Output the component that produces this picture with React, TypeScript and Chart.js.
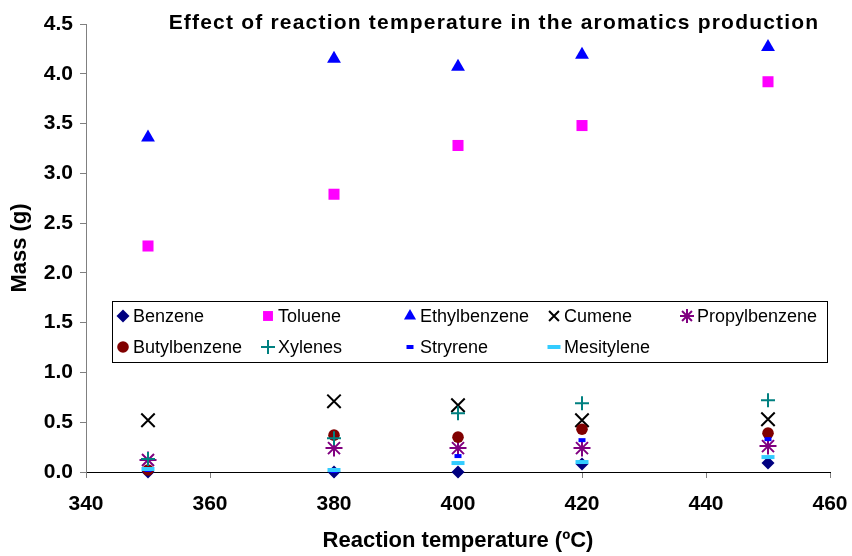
import React, { useEffect, useRef } from 'react';
import { Chart, registerables } from 'chart.js';
import { drawPoint } from 'chart.js/helpers';

Chart.register(...registerables);

// ---------- data ----------
const temperatures = [350, 380, 400, 420, 450];
const benzene = [0.0, 0.0, 0.0, 0.08, 0.09];
const toluene = [2.27, 2.79, 3.28, 3.48, 3.92];
const ethylbenzene = [3.36, 4.15, 4.07, 4.19, 4.27];
const cumene = [0.52, 0.71, 0.67, 0.52, 0.53];
const propylbenzene = [0.12, 0.24, 0.24, 0.24, 0.26];
const butylbenzene = [0.02, 0.37, 0.35, 0.43, 0.39];
const xylenes = [0.13, 0.34, 0.59, 0.69, 0.72];
const styrene = [0.02, 0.01, 0.16, 0.32, 0.33];
const mesitylene = [0.03, 0.02, 0.09, 0.10, 0.15];

const seriesNames = [
  'Benzene',
  'Toluene',
  'Ethylbenzene',
  'Cumene',
  'Propylbenzene',
  'Butylbenzene',
  'Xylenes',
  'Stryrene',
  'Mesitylene',
];
const seriesValues = [
  benzene,
  toluene,
  ethylbenzene,
  cumene,
  propylbenzene,
  butylbenzene,
  xylenes,
  styrene,
  mesitylene,
];

const xMin = 340;
const xMax = 460;
const xStep = 20;
const yMin = 0;
const yMax = 4.5;
const yStep = 0.5;

const chartTitle = 'Effect of reaction temperature in the aromatics production';
const xAxisTitle = 'Reaction temperature (ºC)';
const yAxisTitle = 'Mass (g)';

// ---------- styles ----------
const seriesStyles = [
  { pointStyle: 'rectRot', color: '#000080', radius: 6.5, borderWidth: 0 },
  { pointStyle: 'rect', color: '#FF00FF', radius: 7.8, borderWidth: 0 },
  { pointStyle: 'triangle', color: '#0000FF', radius: 8, borderWidth: 0 },
  { pointStyle: 'crossRot', color: '#000000', radius: 9.5, borderWidth: 2 },
  { pointStyle: 'star', color: '#800080', radius: 8.5, borderWidth: 2 },
  { pointStyle: 'circle', color: '#800000', radius: 5.8, borderWidth: 0 },
  { pointStyle: 'cross', color: '#008080', radius: 7, borderWidth: 2 },
  { pointStyle: 'line', color: '#0000FF', radius: 3.5, borderWidth: 4 },
  { pointStyle: 'line', color: '#33CCFF', radius: 6.5, borderWidth: 4 },
];

const FONT = "'Liberation Sans', Arial, sans-serif";

const titlePlugin = {
  id: 'topTitle',
  afterDraw(chart: any) {
    const { ctx, chartArea } = chart;
    ctx.save();
    ctx.font = `bold 21px ${FONT}`;
    (ctx as any).letterSpacing = '1.2px';
    ctx.fillStyle = '#000';
    ctx.textAlign = 'center';
    ctx.textBaseline = 'middle';
    ctx.fillText(chartTitle, chartArea.left + 408, chartArea.top - 1);
    ctx.restore();
  },
};

const legendTextCols = [21, 166, 308, 452, 585];

const legendPlugin = {
  id: 'gridLegend',
  afterDraw(chart: any) {
    const { ctx, chartArea } = chart;
    const boxL = chartArea.left + 26;
    const boxT = chartArea.top + 277;
    const boxW = 715;
    const boxH = 61;
    ctx.save();
    ctx.fillStyle = '#ffffff';
    ctx.fillRect(boxL, boxT, boxW, boxH);
    ctx.strokeStyle = '#000000';
    ctx.lineWidth = 1;
    ctx.strokeRect(boxL + 0.5, boxT + 0.5, boxW, boxH);
    ctx.font = `18px ${FONT}`;
    ctx.textBaseline = 'middle';
    ctx.textAlign = 'left';
    chart.data.datasets.forEach((ds: any, i: number) => {
      const row = i < 5 ? 0 : 1;
      const col = i < 5 ? i : i - 5;
      const tx = boxL + legendTextCols[col];
      const ty = boxT + 15 + row * 31;
      const st = seriesStyles[i];
      ctx.fillStyle = st.color;
      ctx.strokeStyle = st.color;
      ctx.lineWidth = st.borderWidth;
      drawPoint(
        ctx,
        {
          pointStyle: st.pointStyle as any,
          radius: Math.min(st.radius, 7),
          rotation: 0,
          borderWidth: st.borderWidth,
        } as any,
        tx - 10,
        ty
      );
      ctx.fillStyle = '#000000';
      ctx.fillText(ds.label, tx, ty + 1);
    });
    ctx.restore();
  },
};

export default function App() {
  const canvasRef = useRef<HTMLCanvasElement | null>(null);

  useEffect(() => {
    if (!canvasRef.current) return;
    const datasets = seriesNames.map((name, i) => {
      const st = seriesStyles[i];
      return {
        label: name,
        data: temperatures.map((t, j) => ({ x: t, y: seriesValues[i][j] })),
        pointStyle: st.pointStyle,
        pointRadius: st.radius,
        pointHoverRadius: st.radius,
        backgroundColor: st.color,
        borderColor: st.color,
        pointBorderWidth: st.borderWidth,
        borderWidth: st.borderWidth,
        showLine: false,
        clip: false as any,
        order: seriesNames.length - i,
      };
    });

    const chart = new Chart(canvasRef.current, {
      type: 'scatter',
      data: { datasets: datasets as any },
      plugins: [titlePlugin, legendPlugin],
      options: {
        animation: false,
        responsive: true,
        maintainAspectRatio: false,
        layout: { padding: { top: 24, right: 22, left: 0, bottom: 0 } },
        plugins: {
          legend: { display: false },
          tooltip: { enabled: false },
          title: { display: false },
        },
        scales: {
          x: {
            type: 'linear',
            min: xMin,
            max: xMax,
            ticks: {
              stepSize: xStep,
              color: '#000',
              font: { family: FONT, size: 21, weight: 'bold' },
              padding: 14,
              maxRotation: 0,
            },
            grid: {
              display: true,
              drawOnChartArea: false,
              drawTicks: true,
              tickLength: 6,
              color: '#808080',
            },
            border: { display: true, color: '#000000', width: 1 },
            title: {
              display: true,
              text: xAxisTitle,
              color: '#000',
              font: { family: FONT, size: 22, weight: 'bold' },
              padding: { top: 0, bottom: 2 },
            },
            afterFit(scale: any) {
              scale.height = 84;
              scale.paddingLeft = 0;
              scale.paddingRight = 0;
            },
          },
          y: {
            type: 'linear',
            min: yMin,
            max: yMax,
            ticks: {
              stepSize: yStep,
              color: '#000',
              font: { family: FONT, size: 21, weight: 'bold' },
              padding: 7,
              callback: (v: any) => Number(v).toFixed(1),
            },
            grid: {
              display: true,
              drawOnChartArea: false,
              drawTicks: true,
              tickLength: 6,
              color: '#808080',
            },
            border: { display: true, color: '#808080', width: 1 },
            title: {
              display: true,
              text: yAxisTitle,
              color: '#000',
              font: { family: FONT, size: 22, weight: 'bold' },
              padding: { top: 7, bottom: 0 },
            },
            afterFit(scale: any) {
              scale.width = 86;
              scale.paddingTop = 0;
              scale.paddingBottom = 0;
            },
          },
        },
      },
    });
    return () => chart.destroy();
  }, []);

  return (
    <div style={{ position: 'absolute', left: 0, top: 0, width: 852, height: 556, background: '#fff' }}>
      <canvas ref={canvasRef} />
    </div>
  );
}
